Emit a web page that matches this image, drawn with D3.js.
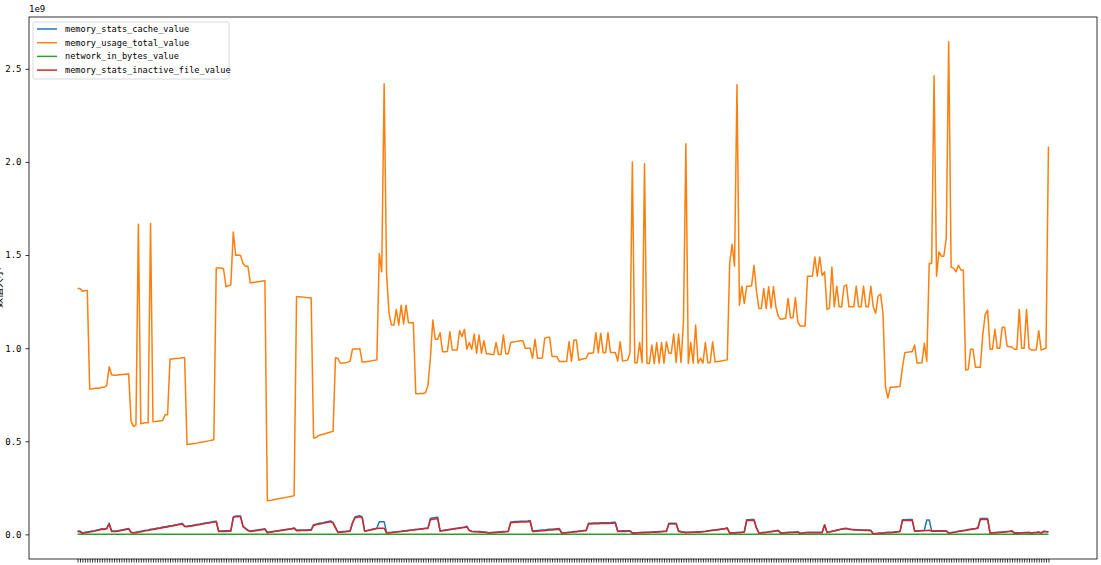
<!DOCTYPE html>
<html>
<head>
<meta charset="utf-8">
<script src="https://cdn.jsdelivr.net/npm/d3@7"></script>
<style>
  body { margin: 0; background: #fff; }
  text { font-family: "DejaVu Sans Mono", monospace; fill: #000; }
</style>
</head>
<body>
<div id="my_dataviz"></div>
<script>
// Series names (legend order)
var seriesNames = ["memory_stats_cache_value", "memory_usage_total_value", "network_in_bytes_value", "memory_stats_inactive_file_value"];
var seriesColors = ["#1f77b4", "#ff7f0e", "#2ca02c", "#d62728"];

// Values in millions of bytes, one per sample
var cacheValues = [
  18,18,8,11,13,15,18,20,23,26, 30,29,33,60,18,18,19,21,24,26,
  29,32,12,9,12,14,17,19,22,24, 27,29,31,34,36,39,41,43,46,48,
  51,53,56,59,45,44,46,48,51,53, 55,57,60,62,64,66,69,71,18,18,
  19,19,20,20,94,99,99,98,44,33, 23,18,20,22,24,26,28,30,11,13,
  15,17,19,21,23,25,27,29,31,35, 23,23,24,24,24,25,25,52,55,58,
  61,63,66,69,72,64,38,12,14,15, 16,18,19,64,93,97,100,93,18,21,
  24,27,30,33,68,68,68,9,10,11, 13,14,16,17,19,20,22,24,25,27,
  28,30,31,33,34,85,88,90,92,19, 21,23,25,27,29,31,33,35,37,39,
  44,22,17,16,16,15,14,13,12,9, 10,11,12,13,14,15,16,17,67,68,
  69,69,70,71,71,72,74,19,20,21, 22,23,24,26,27,28,29,30,31,8,
  9,10,12,13,15,16,18,19,21,22, 60,60,61,61,61,62,62,63,63,63,
  65,65,18,18,19,19,20,20,8,8, 9,10,11,11,12,12,13,14,14,15,
  16,17,17,60,60,60,60,20,15,13, 11,12,12,13,13,14,14,16,17,19,
  21,23,24,26,28,30,32,35,8,9, 9,10,11,12,14,79,79,80,80,36,
  8,9,11,12,14,16,18,20,22,8, 9,10,11,12,12,13,14,6,8,10,
  11,11,11,11,11,11,11,52,12,14, 17,20,23,26,29,32,30,29,27,26,
  25,25,24,24,23,23,22,4,5,6, 7,8,10,11,11,12,14,15,17,79,
  79,80,80,80,19,19,20,21,22,77, 77,19,19,19,19,19,19,19,8,10,
  12,14,17,19,21,23,26,28,30,32, 35,85,85,85,85,8,9,10,11,12,
  13,14,16,17,19,8,8,9,9,10, 10,11,8,10,11,13,8,17,16,14
];

var usageValues = [
  1320,1320,1306,1310,1310,780,780,785,785,785, 790,790,800,900,857,855,855,857,857,860,
  860,862,607,580,587,1665,594,597,600,600, 1670,605,606,608,610,612,643,643,940,942,
  944,945,946,948,949,482,484,486,488,490, 493,495,497,500,502,505,508,1431,1430,1430,
  1425,1330,1335,1340,1624,1499,1500,1497,1455,1440, 1440,1350,1352,1354,1356,1358,1360,1362,180,182,
  184,187,190,192,195,197,200,202,205,207, 1276,1276,1275,1274,1272,1271,1270,517,520,530,
  535,538,542,546,550,553,949,945,919,920, 922,925,930,994,995,996,998,925,926,928,
  930,933,935,937,1508,1410,2420,1400,1187,1124, 1124,1208,1124,1231,1130,1231,1137,1137,1137,755,
  755,757,757,760,800,946,1151,1048,1048,1083, 981,981,982,1088,990,990,990,1094,1062,1101,
  995,1030,994,1076,973,1071,973,1040,970,970, 966,966,1030,966,966,1071,970,970,1030,1033,
  1035,1037,1040,1040,1000,1000,1000,946,1048,946, 946,947,1053,1058,1058,955,955,955,928,928,
  928,930,1035,930,1044,1044,935,940,943,946, 973,973,975,1083,975,1080,975,976,1083,977,
  977,977,931,1035,931,933,935,973,1999,922, 922,1030,922,1990,919,917,1017,917,1030,919,
  1030,920,1035,973,973,1076,923,1076,923,1137, 2097,917,1030,919,1124,919,946,920,1030,922,
  923,1035,925,928,930,932,935,937,1455,1558, 1440,2414,1231,1333,1240,1333,1333,1335,1445,1308,
  1213,1213,1320,1213,1330,1215,1330,1220,1170,1155, 1158,1160,1267,1163,1163,1270,1140,1119,1119,1119,
  1386,1386,1386,1490,1386,1490,1390,1410,1208,1215, 1436,1222,1333,1222,1222,1333,1340,1222,1222,1222,
  1333,1222,1222,1333,1222,1222,1333,1222,1187,1280, 1290,1187,794,732,790,790,792,793,794,898,
  976,978,980,981,1017,920,920,921,1026,930, 1455,1455,2463,1386,1517,1494,1494,1590,2646,1436,
  1430,1410,1445,1420,1420,883,885,994,994,898, 898,898,1071,1181,1204,994,994,1101,999,1000,
  1112,1112,1010,1008,1006,994,994,1208,999,999, 1208,1000,990,990,992,1094,990,995,999,2083
];

var networkValues = [
  0,0,0,0,0,0,0,0,0,0, 0,0,0,0,0,0,0,0,0,0, 0,0,0,0,0,0,0,0,0,0, 0,0,0,0,0,0,0,0,0,0,
  0,0,0,0,0,0,0,0,0,0, 0,0,0,0,0,0,0,0,0,0, 0,0,0,0,0,0,0,0,0,0, 0,0,0,0,0,0,0,0,0,0,
  0,0,0,0,0,0,0,0,0,0, 0,0,0,0,0,0,0,0,0,0, 0,0,0,0,0,0,0,0,0,0, 0,0,0,0,0,0,0,0,0,0,
  0,0,0,0,0,0,0,0,0,0, 0,0,0,0,0,0,0,0,0,0, 0,0,0,0,0,0,0,0,0,0, 0,0,0,0,0,0,0,0,0,0,
  0,0,0,0,0,0,0,0,0,0, 0,0,0,0,0,0,0,0,0,0, 0,0,0,0,0,0,0,0,0,0, 0,0,0,0,0,0,0,0,0,0,
  0,0,0,0,0,0,0,0,0,0, 0,0,0,0,0,0,0,0,0,0, 0,0,0,0,0,0,0,0,0,0, 0,0,0,0,0,0,0,0,0,0,
  0,0,0,0,0,0,0,0,0,0, 0,0,0,0,0,0,0,0,0,0, 0,0,0,0,0,0,0,0,0,0, 0,0,0,0,0,0,0,0,0,0,
  0,0,0,0,0,0,0,0,0,0, 0,0,0,0,0,0,0,0,0,0, 0,0,0,0,0,0,0,0,0,0, 0,0,0,0,0,0,0,0,0,0,
  0,0,0,0,0,0,0,0,0,0, 0,0,0,0,0,0,0,0,0,0, 0,0,0,0,0,0,0,0,0,0, 0,0,0,0,0,0,0,0,0,0,
  0,0,0,0,0,0,0,0,0,0, 0,0,0,0,0,0,0,0,0,0, 0,0,0,0,0,0,0,0,0,0, 0,0,0,0,0,0,0,0,0,0
];

var inactiveFileValues = [
  14,14,6,8,10,12,15,17,20,23, 27,26,30,56,15,15,16,18,21,23,
  26,29,10,7,9,11,14,16,19,21, 24,26,28,31,33,36,38,40,43,45,
  48,50,53,56,42,41,43,45,48,50, 52,54,57,59,61,63,66,68,15,15,
  16,16,17,17,90,95,95,94,41,30, 20,15,17,19,21,23,25,27,9,11,
  13,15,17,19,21,23,25,27,29,32, 20,20,21,21,21,22,22,48,51,54,
  57,59,62,65,68,60,35,10,12,13, 14,16,17,60,88,92,95,88,16,19,
  22,25,28,31,33,33,33,7,8,9, 11,12,14,15,17,18,20,22,23,25,
  26,28,29,31,32,78,81,83,85,17, 19,21,23,25,27,29,31,33,35,37,
  40,20,15,14,14,13,12,11,10,7, 8,9,10,11,12,13,14,15,63,64,
  65,65,66,67,67,68,69,15,16,17, 18,19,20,22,23,24,25,26,27,6,
  7,8,10,11,13,14,16,17,19,20, 56,56,57,57,57,58,58,59,59,59,
  60,60,15,15,16,16,17,17,6,6, 7,8,9,9,10,10,11,12,12,13,
  14,15,15,56,56,56,56,15,13,11, 9,10,10,11,11,12,12,14,15,17,
  19,21,22,24,26,28,30,32,6,7, 7,8,9,10,12,74,74,75,76,33,
  6,7,9,10,12,14,16,18,20,6, 7,8,9,10,10,11,12,4,6,8,
  9,9,9,9,9,9,9,50,10,12, 15,18,21,24,27,30,33,27,25,24,
  23,23,22,22,21,21,20,2,3,4, 5,6,8,9,9,10,12,13,15,74,
  74,75,75,76,17,17,18,19,20,21, 22,17,17,17,17,17,17,17,6,8,
  10,12,15,17,19,21,24,26,28,30, 33,80,80,80,80,6,7,8,9,10,
  11,12,14,15,17,6,6,7,7,8, 8,9,6,8,9,11,6,15,14,12
];

// y tick labels
var yTickValues = [0, 0.5e9, 1.0e9, 1.5e9, 2.0e9, 2.5e9];
var yTickLabels = ["0.0", "0.5", "1.0", "1.5", "2.0", "2.5"];
var yOffsetLabel = "1e9";
var yAxisLabel = "数值大小";

// Chart size and margins
var margin = {top: 17, right: 4, bottom: 6, left: 29},
    width = 1101 - margin.left - margin.right,
    height = 565 - margin.top - margin.bottom;

var svg = d3.select("#my_dataviz")
  .append("svg")
    .attr("width", 1101)
    .attr("height", 565)
  .append("g")
    .attr("transform", "translate(" + margin.left + "," + margin.top + ")");

var allSeries = [cacheValues, usageValues, networkValues, inactiveFileValues];
var n = usageValues.length;

// x: sample index, with matplotlib-like 5% margins
var x = d3.scaleLinear()
  .domain([-(n - 1) * 0.05, (n - 1) * 1.05])
  .range([0, width]);

// y: bytes, 5% margins around the data range
var yMax = d3.max(allSeries, function(s) { return d3.max(s); }) * 1e6;
var yMin = d3.min(allSeries, function(s) { return d3.min(s); }) * 1e6;
var pad = (yMax - yMin) * 0.05;
var y = d3.scaleLinear()
  .domain([yMin - pad, yMax + pad])
  .range([height, 0]);

// x axis: one tick per sample, labels fall below the picture
var xAxis = svg.append("g")
  .attr("transform", "translate(0," + height + ")")
  .call(d3.axisBottom(x).tickValues(d3.range(n)).tickFormat("").tickSize(3.5));
xAxis.select(".domain").remove();
xAxis.selectAll(".tick line").attr("stroke", "#000").attr("stroke-width", 0.8);

// y axis
var yAxis = svg.append("g")
  .call(d3.axisLeft(y).tickValues(yTickValues)
    .tickFormat(function(d, i) { return yTickLabels[i]; })
    .tickSize(3.5).tickPadding(4));
yAxis.select(".domain").remove();
yAxis.selectAll(".tick line").attr("stroke", "#000").attr("stroke-width", 0.8);
yAxis.selectAll(".tick text")
  .style("font-family", "'DejaVu Sans Mono', monospace")
  .style("font-size", "9px");

// offset text above the y axis
svg.append("text")
  .attr("x", 0)
  .attr("y", -5)
  .style("font-size", "9px")
  .text(yOffsetLabel);

// y label, mostly outside the figure like the original
svg.append("text")
  .attr("transform", "translate(" + (1.5 - margin.left) + "," + (height / 2) + ") rotate(-90)")
  .attr("text-anchor", "middle")
  .style("font-family", "'Noto Sans CJK SC', sans-serif")
  .style("font-size", "10px")
  .text(yAxisLabel);

// lines, drawn in legend order
var line = d3.line()
  .x(function(d, i) { return x(i); })
  .y(function(d) { return y(d * 1e6); });

svg.selectAll(".series")
  .data(allSeries)
  .enter()
  .append("path")
    .attr("class", "series")
    .attr("d", line)
    .attr("fill", "none")
    .attr("stroke", function(d, i) { return seriesColors[i]; })
    .attr("stroke-width", 1.5)
    .attr("stroke-linejoin", "round");

// frame around the plot
svg.append("rect")
  .attr("width", width)
  .attr("height", height)
  .attr("fill", "none")
  .attr("stroke", "#000")
  .attr("stroke-width", 0.8);

// legend
var legend = svg.append("g")
  .attr("transform", "translate(4,5)");

legend.append("rect")
  .attr("width", 196)
  .attr("height", 57)
  .attr("rx", 2)
  .attr("fill", "#fff")
  .attr("fill-opacity", 0.8)
  .attr("stroke", "#d0d0d0")
  .attr("stroke-width", 0.8);

var rows = legend.selectAll(".row")
  .data(seriesNames)
  .enter()
  .append("g")
    .attr("transform", function(d, i) { return "translate(0," + (7 + i * 13.7) + ")"; });

rows.append("line")
  .attr("x1", 4).attr("x2", 24)
  .attr("stroke", function(d, i) { return seriesColors[i]; })
  .attr("stroke-width", 1.5);

rows.append("text")
  .attr("x", 32)
  .attr("dy", ".35em")
  .style("font-size", "8.6px")
  .text(function(d) { return d; });
</script>
</body>
</html>
